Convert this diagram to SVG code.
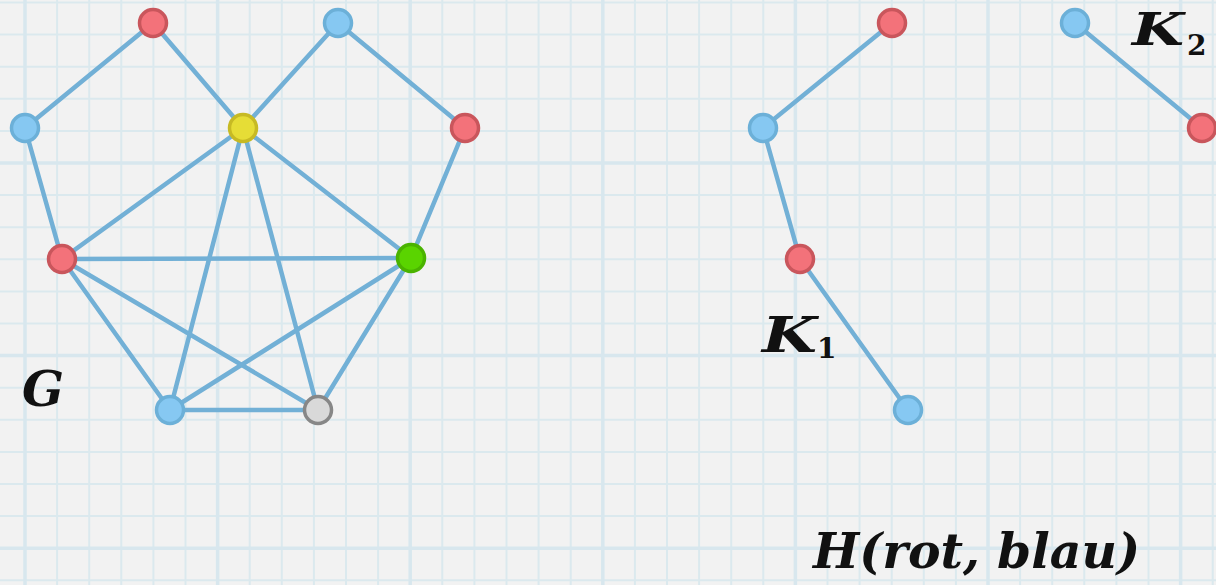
<svg xmlns="http://www.w3.org/2000/svg" width="1216" height="585" viewBox="0 0 1216 585">
<style>
.minor{stroke:#dbe9ee;stroke-width:2;fill:none}
.major{stroke:#d8e7ee;stroke-width:3.5;fill:none}
.edge{stroke:#72b0d6;stroke-width:4.5;stroke-linecap:round;fill:none}
.red{fill:#f3727a;stroke:#c9565c;stroke-width:3.5}
.blue{fill:#86c8f2;stroke:#6cb0d8;stroke-width:3.5}
.yellow{fill:#e6dd36;stroke:#c7ba24;stroke-width:3.5}
.green{fill:#5ad400;stroke:#4ab300;stroke-width:3.5}
.gray{fill:#d9d9d9;stroke:#878787;stroke-width:3.5}
.math{font-family:"DejaVu Serif","Liberation Serif",serif;font-style:italic;font-weight:bold;fill:#111}
.sub{font-family:"DejaVu Serif","Liberation Serif",serif;font-weight:bold;fill:#111}
</style>
<rect width="1216" height="585" fill="#f2f2f2"/>
<g id="grid">
<path class="minor" d="M25 0V585M57.1 0V585M89.2 0V585M121.3 0V585M153.4 0V585M185.5 0V585M249.7 0V585M281.8 0V585M313.9 0V585M346 0V585M378.1 0V585M442.3 0V585M474.4 0V585M506.5 0V585M538.6 0V585M570.7 0V585M634.9 0V585M667 0V585M699.1 0V585M731.2 0V585M763.3 0V585M827.5 0V585M859.6 0V585M891.7 0V585M923.8 0V585M955.9 0V585M1020.1 0V585M1052.2 0V585M1084.3 0V585M1116.4 0V585M1148.5 0V585M1212.7 0V585"/>
<path class="minor" d="M0 2.5H1216M0 34.6H1216M0 66.7H1216M0 98.8H1216M0 130.9H1216M0 195.1H1216M0 227.2H1216M0 259.3H1216M0 291.4H1216M0 323.5H1216M0 387.7H1216M0 419.8H1216M0 451.9H1216M0 484H1216M0 516.1H1216M0 580.3H1216"/>
<path class="major" d="M25 0V585M217.6 0V585M410.2 0V585M602.8 0V585M795.4 0V585M988 0V585M1180.6 0V585M0 163H1216M0 355.6H1216M0 548.2H1216"/>
</g>
<g id="connectors">
<line class="edge" x1="25" y1="128" x2="153" y2="23"/>
<line class="edge" x1="153" y1="23" x2="243" y2="128"/>
<line class="edge" x1="338" y1="23" x2="243" y2="128"/>
<line class="edge" x1="338" y1="23" x2="465" y2="128"/>
<line class="edge" x1="25" y1="128" x2="62" y2="259"/>
<line class="edge" x1="465" y1="128" x2="411" y2="258"/>
<line class="edge" x1="243" y1="128" x2="62" y2="259"/>
<line class="edge" x1="243" y1="128" x2="411" y2="258"/>
<line class="edge" x1="243" y1="128" x2="170" y2="410"/>
<line class="edge" x1="243" y1="128" x2="318" y2="410"/>
<line class="edge" x1="62" y1="259" x2="411" y2="258"/>
<line class="edge" x1="62" y1="259" x2="170" y2="410"/>
<line class="edge" x1="62" y1="259" x2="318" y2="410"/>
<line class="edge" x1="411" y1="258" x2="170" y2="410"/>
<line class="edge" x1="411" y1="258" x2="318" y2="410"/>
<line class="edge" x1="170" y1="410" x2="318" y2="410"/>
<line class="edge" x1="892" y1="23" x2="763" y2="128"/>
<line class="edge" x1="763" y1="128" x2="800" y2="259"/>
<line class="edge" x1="800" y1="259" x2="908" y2="410"/>
<line class="edge" x1="1075" y1="23" x2="1202" y2="128"/>
</g>
<g id="G-n1"><circle class="red" cx="153" cy="23" r="13.5"/></g>
<g id="G-n2"><circle class="blue" cx="338" cy="23" r="13.5"/></g>
<g id="G-n3"><circle class="blue" cx="25" cy="128" r="13.5"/></g>
<g id="G-n4"><circle class="yellow" cx="243" cy="128" r="13.5"/></g>
<g id="G-n5"><circle class="red" cx="465" cy="128" r="13.5"/></g>
<g id="G-n6"><circle class="red" cx="62" cy="259" r="13.5"/></g>
<g id="G-n7"><circle class="green" cx="411" cy="258" r="13.5"/></g>
<g id="G-n8"><circle class="blue" cx="170" cy="410" r="13.5"/></g>
<g id="G-n9"><circle class="gray" cx="318" cy="410" r="13.5"/></g>
<g id="H-n1"><circle class="red" cx="892" cy="23" r="13.5"/></g>
<g id="H-n2"><circle class="blue" cx="763" cy="128" r="13.5"/></g>
<g id="H-n3"><circle class="red" cx="800" cy="259" r="13.5"/></g>
<g id="H-n4"><circle class="blue" cx="908" cy="410" r="13.5"/></g>
<g id="H-n5"><circle class="blue" cx="1075" cy="23" r="13.5"/></g>
<g id="H-n6"><circle class="red" cx="1202" cy="128" r="13.5"/></g>
<g id="labels">
<text class="math" x="22" y="406" font-size="48" textLength="42" lengthAdjust="spacingAndGlyphs">G</text>
<text class="math" x="762" y="352" font-size="48" textLength="55" lengthAdjust="spacingAndGlyphs">K</text>
<text class="sub" x="817" y="358" font-size="28">1</text>
<text class="math" x="1132" y="45" font-size="45" textLength="52" lengthAdjust="spacingAndGlyphs">K</text>
<text class="sub" x="1187" y="55" font-size="28">2</text>
<text class="math" x="813" y="568" font-size="48" textLength="327" lengthAdjust="spacingAndGlyphs">H(rot, blau)</text>
</g>
</svg>
